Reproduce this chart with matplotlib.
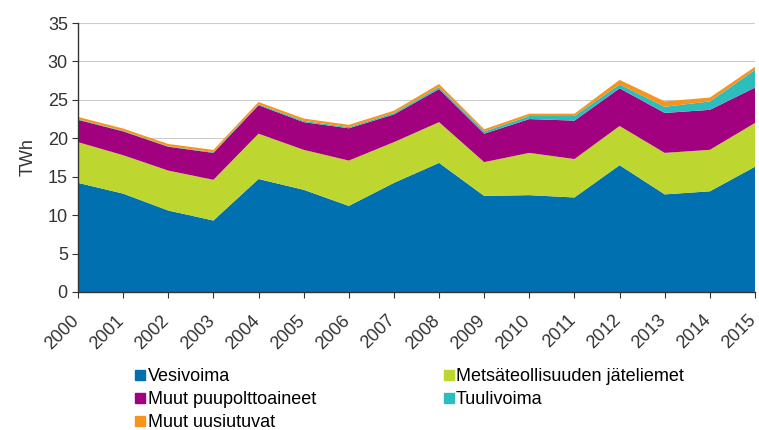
import matplotlib
matplotlib.use("Agg")
import matplotlib.pyplot as plt
from matplotlib.lines import Line2D
import matplotlib.transforms as mtransforms

years = list(range(2000, 2016))
vesivoima = [14.2, 12.8, 10.6, 9.3, 14.7, 13.3, 11.2, 14.2, 16.8, 12.5, 12.6, 12.3, 16.5, 12.7, 13.1, 16.3]
metsateollisuus = [5.3, 5.0, 5.2, 5.3, 5.9, 5.2, 5.9, 5.3, 5.3, 4.4, 5.5, 5.0, 5.1, 5.4, 5.4, 5.7]
muut_puu = [2.9, 3.1, 3.1, 3.5, 3.7, 3.6, 4.2, 3.6, 4.3, 3.7, 4.4, 5.0, 4.9, 5.2, 5.2, 4.6]
tuulivoima = [0.08, 0.07, 0.06, 0.09, 0.12, 0.17, 0.15, 0.19, 0.26, 0.28, 0.4, 0.6, 0.5, 0.8, 1.1, 2.3]
muut_uusiutuvat = [0.3, 0.3, 0.3, 0.3, 0.3, 0.3, 0.3, 0.3, 0.4, 0.3, 0.3, 0.3, 0.6, 0.7, 0.5, 0.4]

labels = ["Vesivoima", "Metsäteollisuuden jäteliemet", "Muut puupolttoaineet", "Tuulivoima", "Muut uusiutuvat"]
colors = ["#0070B0", "#BED630", "#A1007E", "#2EBDBD", "#F7941D"]

plt.rcParams['font.family'] = ['Liberation Sans', 'DejaVu Sans']

fig = plt.figure(figsize=(7.59, 4.30), dpi=100)
ax = fig.add_axes([78/759, 138/430, (755-78)/759, (292-23)/430])

ax.stackplot(years, vesivoima, metsateollisuus, muut_puu, tuulivoima, muut_uusiutuvat,
             colors=colors, linewidth=0, zorder=2)

ax.set_xlim(2000, 2015)
ax.set_ylim(0, 35)
ax.set_yticks(range(0, 36, 5))
ax.set_xticks(years)
ax.yaxis.grid(True, color='#cccccc', linewidth=0.8, zorder=0)
ax.set_axisbelow(True)
for s in ['top', 'right']:
    ax.spines[s].set_visible(False)
for s in ['left', 'bottom']:
    ax.spines[s].set_color('#333333')
    ax.spines[s].set_linewidth(1.0)
ax.tick_params(axis='both', labelsize=13, colors='#333333', length=4.3, direction='out')
ax.tick_params(axis='x', pad=10)
ax.tick_params(axis='y', pad=3)
ax.set_xticklabels([str(y) for y in years], rotation=45, ha='right', va='top',
                   rotation_mode='anchor')
offset = mtransforms.ScaledTranslation(-7.5/100, 0, fig.dpi_scale_trans)
for lbl in ax.get_xticklabels():
    lbl.set_transform(lbl.get_transform() + offset)
ax.set_ylabel("TWh", fontsize=13, color='#333333', labelpad=8)

order = [0, 2, 4, 1, 3]
handles = [Line2D([], [], marker='s', linestyle='none', markersize=6.5,
                  markerfacecolor=colors[i], markeredgecolor=colors[i]) for i in order]
fig.legend(handles, [labels[i] for i in order], ncol=2, loc='upper left',
           bbox_to_anchor=(134/759, 1 - 368/430), frameon=False, fontsize=13,
           handletextpad=0.05, handlelength=0.7, columnspacing=7.0, labelspacing=0.33,
           borderaxespad=0, borderpad=0)

fig.savefig("out.png", dpi=100)
